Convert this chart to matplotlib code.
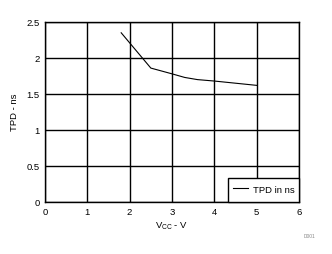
import matplotlib
matplotlib.use("Agg")
import matplotlib.pyplot as plt

plt.rcParams['font.family'] = ['Liberation Sans', 'DejaVu Sans']

vcc = [1.8, 2.5, 3.0, 3.3, 3.6, 4.0, 4.5, 5.0]
tpd = [2.35, 1.86, 1.78, 1.73, 1.70, 1.68, 1.65, 1.62]
xticks = [0, 1, 2, 3, 4, 5, 6]
yticks = [0, 0.5, 1, 1.5, 2, 2.5]
ytick_labels = ['0', '0.5', '1', '1.5', '2', '2.5']

fig = plt.figure(figsize=(3.32, 2.54), dpi=100)
ax = fig.add_axes([45/332, 52/254, 254/332, 180/254])

ax.plot(vcc, tpd, color='black', linewidth=0.8, label='TPD in ns')
ax.set_xlim(0, 6)
ax.set_ylim(0, 2.5)
ax.set_xticks(xticks)
ax.set_yticks(yticks)
ax.set_yticklabels(ytick_labels)
ax.grid(True, color='black', linewidth=1.0)
ax.tick_params(length=0, labelsize=6.8, pad=4)
for s in ax.spines.values():
    s.set_linewidth(1.0)

ax.set_xlabel('V$_{\\mathregular{CC}}$ - V', fontsize=6.8, labelpad=3)
ax.set_ylabel('TPD - ns', fontsize=6.8, labelpad=5)

leg = ax.legend(loc='lower right', fontsize=6.8, borderaxespad=0, fancybox=False,
                framealpha=1, edgecolor='black', handlelength=1.6, handletextpad=0.5,
                handleheight=2.0, borderpad=0.5)
leg.get_frame().set_linewidth(1.0)

fig.text(310/332, 1 - 236/254, 'D001', fontsize=3.5, color='#888888', ha='center', va='center')

fig.savefig('out.png', dpi=100)
